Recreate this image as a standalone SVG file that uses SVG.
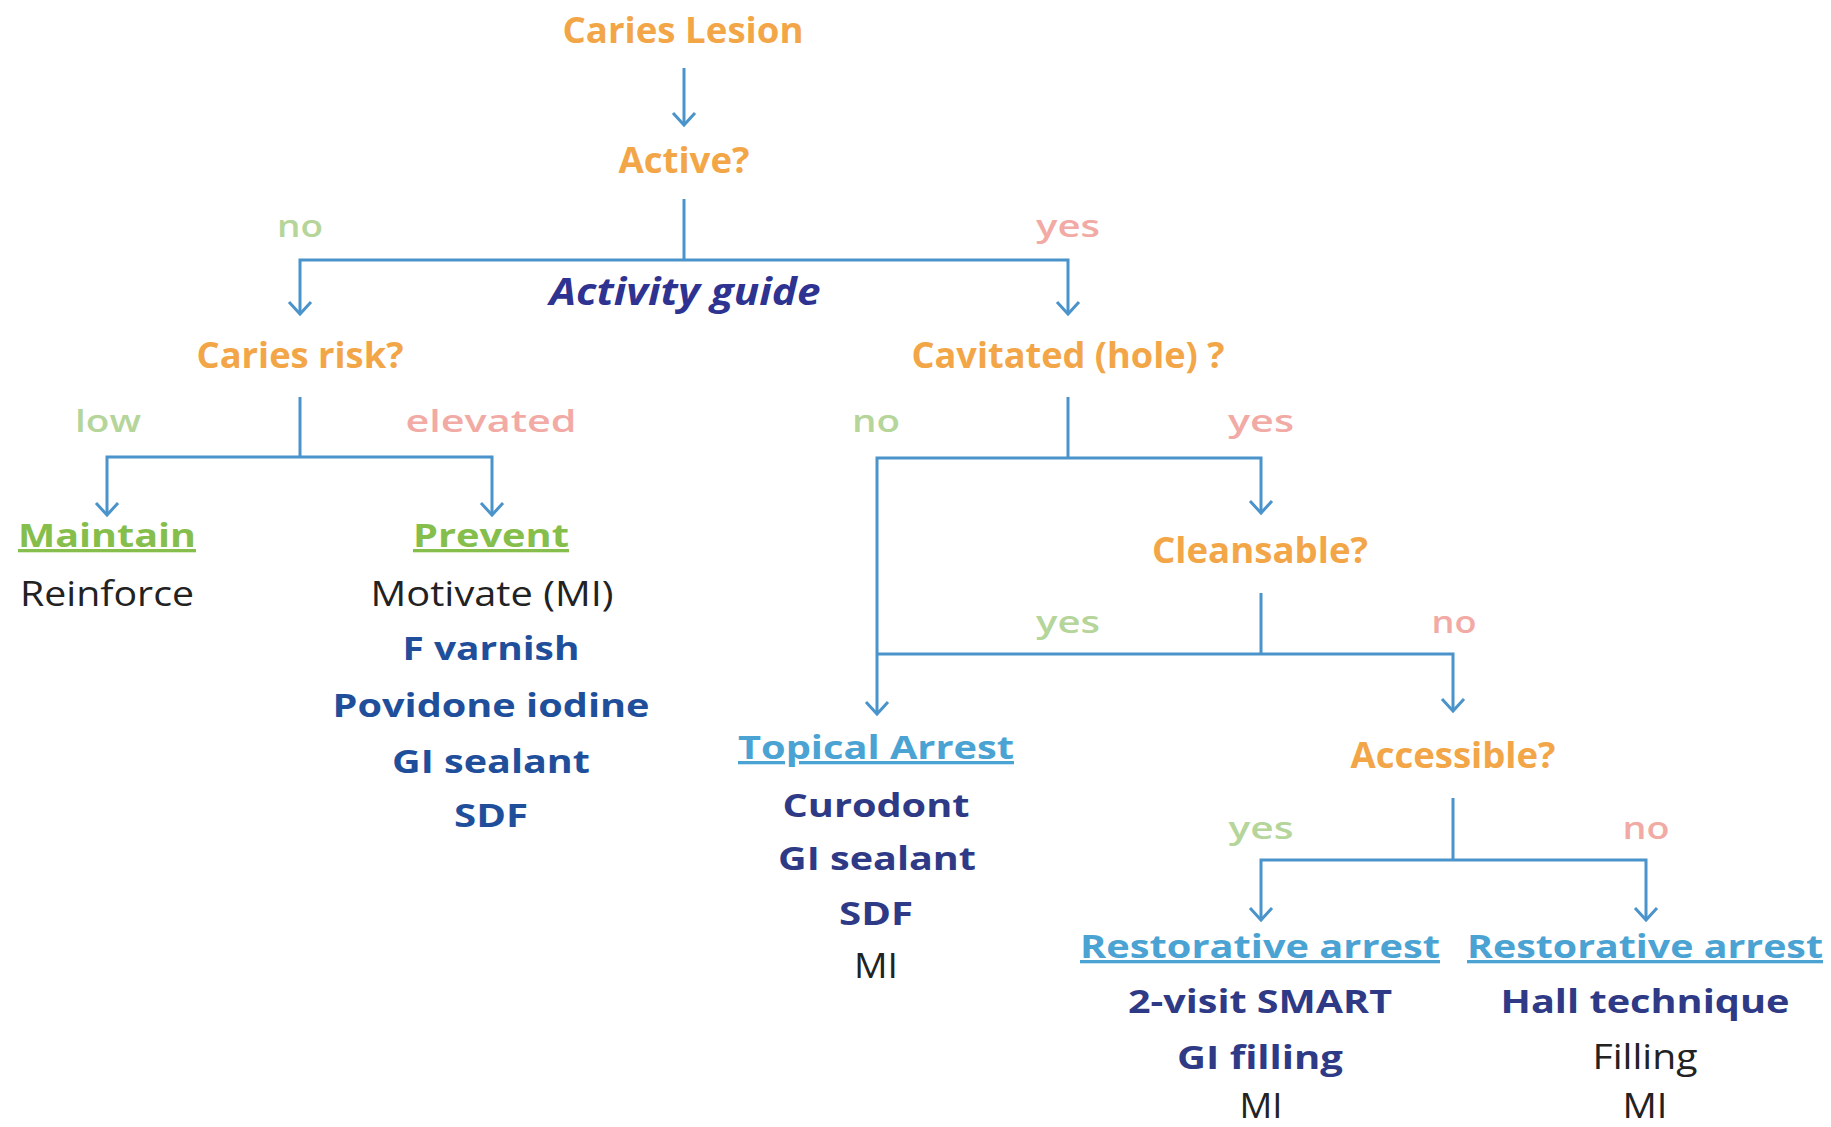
<svg xmlns="http://www.w3.org/2000/svg" width="1831" height="1127" viewBox="0 0 1831 1127">
<defs>
<style>
text{font-family:"Open Sans","Noto Sans","DejaVu Sans",sans-serif;text-anchor:middle}
.q{font-size:36px;font-weight:700;fill:#f2a647}
.lg{font-size:31px;font-weight:600;fill:#b5d59a}
.lr{font-size:31px;font-weight:600;fill:#f2aaa5}
.hg{font-size:33px;font-weight:700;fill:#86be4c;text-decoration:underline}
.hb{font-size:33px;font-weight:700;fill:#4aa3d2;text-decoration:underline}
.nv{font-size:33px;font-weight:700;fill:#2f3a86}
.bl{font-size:33px;font-weight:700;fill:#1f4f9b}
.rg{font-size:35px;font-weight:400;fill:#222}
.ag{font-size:37px;font-weight:700;font-style:italic;fill:#2e3290}
.c{fill:none;stroke:#4a93cb;stroke-width:3}
</style>
<marker id="ah" markerUnits="userSpaceOnUse" markerWidth="30" markerHeight="30" refX="0" refY="0" orient="auto" overflow="visible">
<path d="M-12,-11 L0,0 L-12,11" fill="none" stroke="#4a93cb" stroke-width="3"/>
</marker>
</defs>
<rect width="1831" height="1127" fill="#fff"/>
<g id="connectors">
<path class="c" d="M684,68 V125" marker-end="url(#ah)"/>
<path class="c" d="M684,199 V260"/>
<path class="c" d="M684,260 H300 V314" marker-end="url(#ah)"/>
<path class="c" d="M684,260 H1068 V314" marker-end="url(#ah)"/>
<path class="c" d="M300,397 V457"/>
<path class="c" d="M300,457 H107 V515" marker-end="url(#ah)"/>
<path class="c" d="M300,457 H492 V515" marker-end="url(#ah)"/>
<path class="c" d="M1068,397 V458"/>
<path class="c" d="M1068,458 H1261 V513" marker-end="url(#ah)"/>
<path class="c" d="M1068,458 H877 V714" marker-end="url(#ah)"/>
<path class="c" d="M1261,593 V654"/>
<path class="c" d="M877,654 H1453 V711" marker-end="url(#ah)"/>
<path class="c" d="M1453,798 V860"/>
<path class="c" d="M1453,860 H1261 V920" marker-end="url(#ah)"/>
<path class="c" d="M1453,860 H1646 V920" marker-end="url(#ah)"/>
</g>
<g id="edge-labels">
<text class="lg" x="300" y="237" textLength="46" lengthAdjust="spacingAndGlyphs">no</text>
<text class="lr" x="1068" y="237" textLength="64" lengthAdjust="spacingAndGlyphs">yes</text>
<text class="lg" x="108" y="432" textLength="66" lengthAdjust="spacingAndGlyphs">low</text>
<text class="lr" x="491" y="432" textLength="171" lengthAdjust="spacingAndGlyphs">elevated</text>
<text class="lg" x="876" y="432" textLength="48" lengthAdjust="spacingAndGlyphs">no</text>
<text class="lr" x="1261" y="432" textLength="66" lengthAdjust="spacingAndGlyphs">yes</text>
<text class="lg" x="1068" y="633" textLength="64" lengthAdjust="spacingAndGlyphs">yes</text>
<text class="lr" x="1454" y="633" textLength="45" lengthAdjust="spacingAndGlyphs">no</text>
<text class="lg" x="1261" y="839" textLength="65" lengthAdjust="spacingAndGlyphs">yes</text>
<text class="lr" x="1646" y="839" textLength="47" lengthAdjust="spacingAndGlyphs">no</text>
</g>
<g id="caries-lesion"><text class="q" x="683" y="43" textLength="241" lengthAdjust="spacingAndGlyphs">Caries Lesion</text></g>
<g id="active"><text class="q" x="684" y="173" textLength="131" lengthAdjust="spacingAndGlyphs">Active?</text></g>
<g id="activity-guide"><text class="ag" x="685" y="305" textLength="271" lengthAdjust="spacingAndGlyphs">Activity guide</text></g>
<g id="caries-risk"><text class="q" x="300" y="368" textLength="207" lengthAdjust="spacingAndGlyphs">Caries risk?</text></g>
<g id="cavitated"><text class="q" x="1068" y="368" textLength="313" lengthAdjust="spacingAndGlyphs">Cavitated (hole) ?</text></g>
<g id="maintain">
<text class="hg" x="107" y="547" textLength="178" lengthAdjust="spacingAndGlyphs">Maintain</text>
<text class="rg" x="107" y="606" textLength="174" lengthAdjust="spacingAndGlyphs">Reinforce</text>
</g>
<g id="prevent">
<text class="hg" x="491" y="547" textLength="156" lengthAdjust="spacingAndGlyphs">Prevent</text>
<text class="rg" x="492" y="606" textLength="243" lengthAdjust="spacingAndGlyphs">Motivate (MI)</text>
<text class="bl" x="491" y="660" textLength="177" lengthAdjust="spacingAndGlyphs">F varnish</text>
<text class="bl" x="491" y="717" textLength="317" lengthAdjust="spacingAndGlyphs">Povidone iodine</text>
<text class="bl" x="491" y="773" textLength="198" lengthAdjust="spacingAndGlyphs">GI sealant</text>
<text class="bl" x="491" y="827" textLength="74" lengthAdjust="spacingAndGlyphs">SDF</text>
</g>
<g id="cleansable"><text class="q" x="1260" y="563" textLength="216" lengthAdjust="spacingAndGlyphs">Cleansable?</text></g>
<g id="topical-arrest">
<text class="hb" x="876" y="759" textLength="276" lengthAdjust="spacingAndGlyphs">Topical Arrest</text>
<text class="nv" x="876" y="817" textLength="187" lengthAdjust="spacingAndGlyphs">Curodont</text>
<text class="nv" x="877" y="870" textLength="198" lengthAdjust="spacingAndGlyphs">GI sealant</text>
<text class="nv" x="876" y="925" textLength="74" lengthAdjust="spacingAndGlyphs">SDF</text>
<text class="rg" x="876" y="978" textLength="44" lengthAdjust="spacingAndGlyphs">MI</text>
</g>
<g id="accessible"><text class="q" x="1453" y="768" textLength="205" lengthAdjust="spacingAndGlyphs">Accessible?</text></g>
<g id="restorative-accessible">
<text class="hb" x="1260" y="958" textLength="360" lengthAdjust="spacingAndGlyphs">Restorative arrest</text>
<text class="nv" x="1260" y="1013" textLength="264" lengthAdjust="spacingAndGlyphs">2-visit SMART</text>
<text class="nv" x="1260" y="1069" textLength="166" lengthAdjust="spacingAndGlyphs">GI filling</text>
<text class="rg" x="1261" y="1118" textLength="43" lengthAdjust="spacingAndGlyphs">MI</text>
</g>
<g id="restorative-inaccessible">
<text class="hb" x="1645" y="958" textLength="356" lengthAdjust="spacingAndGlyphs">Restorative arrest</text>
<text class="nv" x="1645" y="1013" textLength="289" lengthAdjust="spacingAndGlyphs">Hall technique</text>
<text class="rg" x="1645" y="1069" textLength="105" lengthAdjust="spacingAndGlyphs">Filling</text>
<text class="rg" x="1645" y="1118" textLength="45" lengthAdjust="spacingAndGlyphs">MI</text>
</g>
</svg>
